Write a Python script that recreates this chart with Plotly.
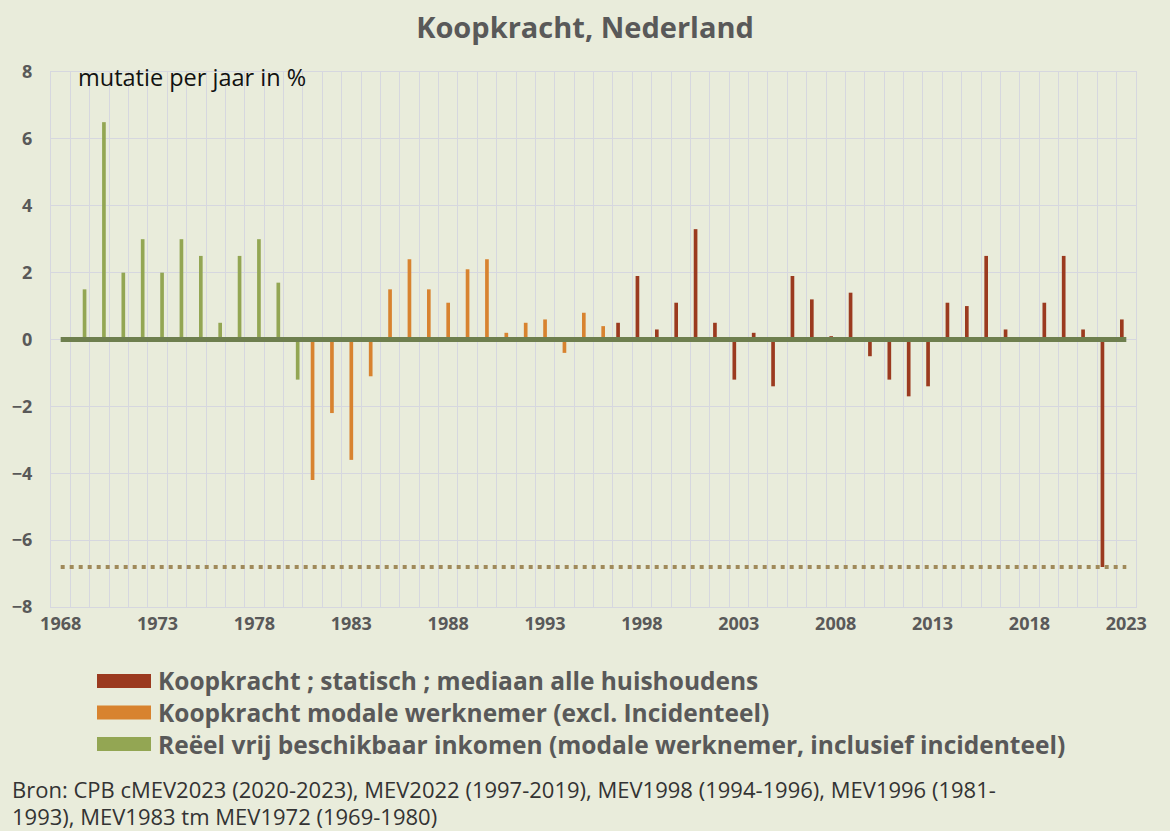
"""Koopkracht Nederland, 1969-2023 (Plotly)."""
import plotly.graph_objects as go

# ---- data -------------------------------------------------------------
years = list(range(1968, 2024))

names = [
    "Koopkracht ; statisch ; mediaan alle huishoudens",
    "Koopkracht modale werknemer (excl. Incidenteel)",
    "Reëel vrij beschikbaar inkomen (modale werknemer, inclusief incidenteel)",
]

years_median = list(range(1997, 2024))
koopkracht_median = [0.5, 1.9, 0.3, 1.1, 3.3, 0.5, -1.2, 0.2, -1.4, 1.9,
                     1.2, 0.1, 1.4, -0.5, -1.2, -1.7, -1.4, 1.1, 1.0, 2.5,
                     0.3, 0.0, 1.1, 2.5, 0.3, -6.8, 0.6]

years_modaal = list(range(1981, 1997))
koopkracht_modaal = [-4.2, -2.2, -3.6, -1.1, 1.5, 2.4, 1.5, 1.1, 2.1, 2.4,
                     0.2, 0.5, 0.6, -0.4, 0.8, 0.4]

years_reeel = list(range(1969, 1981))
reeel_inkomen = [1.5, 6.5, 2.0, 3.0, 2.0, 3.0, 2.5, 0.5, 2.5, 3.0, 1.7, -1.2]

tick_years = list(range(1968, 2024, 5))

colors = ["#9B3A1F", "#D8832F", "#93A653"]
BG = "#E9ECDB"
GRID = "#D6D7DF"
GREY = "#595959"
FONT = "Century Gothic, Open Sans, sans-serif"

# geclusterde staven zoals Excel: elke reeks heeft een eigen plek per jaar
BAR_W = 0.19
SLOT = 0.232
offsets = [-SLOT - BAR_W / 2, -BAR_W / 2, SLOT - BAR_W / 2]

# ---- figure -----------------------------------------------------------
fig = go.Figure()
for name, xs, ys, c, off in zip(names,
                                [years_median, years_modaal, years_reeel],
                                [koopkracht_median, koopkracht_modaal, reeel_inkomen],
                                colors, offsets):
    fig.add_trace(go.Bar(x=xs, y=ys, name=name, width=BAR_W, offset=off,
                         marker=dict(color=c, line_width=0), showlegend=False))

# nul-lijn en laagste waarde (stippellijn)
fig.add_trace(go.Scatter(x=years, y=[0] * len(years), mode="lines",
                         line=dict(color="#6E7F4E", width=5), showlegend=False,
                         hoverinfo="skip"))
low = min(koopkracht_median)
fig.add_trace(go.Scatter(x=years, y=[low] * len(years), mode="lines",
                         line=dict(color="#A08A5A", width=4, dash="4px,5px"),
                         showlegend=False, hoverinfo="skip"))

# handgemaakte legenda (brede kleurblokken zoals in Excel)
L, R, T, B = 51, 34, 72, 224
pw, ph = 1170 - L - R, 831 - T - B
def px(x):
    return (x - L) / pw
def py(y):
    return (831 - B - y) / ph

for i, (name, c) in enumerate(zip(names, colors)):
    yc = 681 + i * 31.5
    fig.add_shape(type="rect", xref="paper", yref="paper",
                  x0=px(97), x1=px(151), y0=py(yc + 7), y1=py(yc - 7),
                  fillcolor=c, line_width=0)
    fig.add_annotation(xref="paper", yref="paper", x=px(156), y=py(yc),
                       xanchor="left", yanchor="middle", showarrow=False,
                       text=name, font=dict(size=24.5, color=GREY, weight="bold"))

fig.add_annotation(xref="paper", yref="paper", x=px(76), y=py(77),
                   xanchor="left", yanchor="middle", showarrow=False,
                   text="mutatie per jaar in %", font=dict(size=23.5, color="#111111"))

bron = ["Bron: CPB cMEV2023 (2020-2023), MEV2022 (1997-2019), "
        "MEV1998 (1994-1996), MEV1996 (1981-",
        "1993), MEV1983 tm MEV1972 (1969-1980)"]
for i, line in enumerate(bron):
    fig.add_annotation(xref="paper", yref="paper", x=px(10), y=py(789 + i * 27),
                       xanchor="left", yanchor="middle", showarrow=False,
                       text=line, font=dict(size=22, color="#333333"))

fig.update_layout(
    width=1170, height=831,
    margin=dict(l=L, r=R, t=T, b=B),
    paper_bgcolor=BG, plot_bgcolor=BG,
    font=dict(family=FONT, color=GREY),
    title=dict(text="Koopkracht, Nederland", x=0.5, xanchor="center",
               y=1 - 28 / 831, yanchor="middle",
               font=dict(size=29, color=GREY, weight="bold")),
    xaxis=dict(range=[1967.5, 2023.5], tickmode="array", tickvals=tick_years,
               showgrid=False, zeroline=False, ticks="",
               tickfont=dict(size=18, color=GREY, weight="bold"),
               showline=True, mirror=True, linecolor=GRID, linewidth=1,
               minor=dict(tick0=1967.5, dtick=1, showgrid=True, gridcolor=GRID,
                          gridwidth=1, ticks="")),
    yaxis=dict(range=[-8, 8], dtick=2, gridcolor=GRID, gridwidth=1,
               zeroline=False, ticks="", ticklabelstandoff=14,
               tickfont=dict(size=18, color=GREY, weight="bold"),
               showline=True, mirror=True, linecolor=GRID, linewidth=1),
)

fig.write_html("out.html", config={"displayModeBar": False},
               post_script="document.body.style.margin='0';")
